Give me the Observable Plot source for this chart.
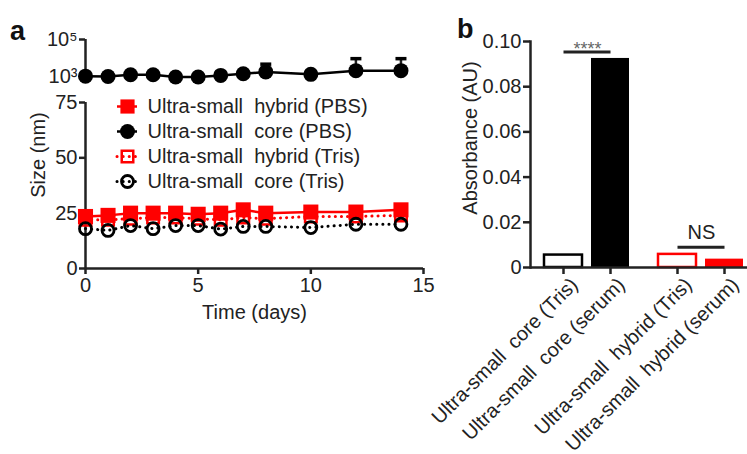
<!DOCTYPE html>
<html><head><meta charset="utf-8">
<script src="https://cdn.jsdelivr.net/npm/d3@7"></script>
<script src="https://cdn.jsdelivr.net/npm/@observablehq/plot@0.6"></script>
<style>
html,body{margin:0;padding:0;background:#fff;overflow:hidden}
#wrap{position:relative;width:747px;height:454px;overflow:hidden;font-family:"Liberation Sans",Arial,sans-serif;color:#222;background:#fff}
#wrap svg{position:absolute}
#wrap svg text{white-space:pre}
.panel{position:absolute;font-weight:bold;font-size:27px;color:#111;line-height:1}
.ylab{position:absolute;font-size:20px;transform:translate(-50%,-50%) rotate(-90deg);white-space:nowrap;line-height:1}
</style></head>
<body><div id="wrap"></div>
<script>
// ---------- Panel a data ----------
const days = [0, 1, 2, 3, 4, 5, 6, 7, 8, 10, 12, 14];
const sizeHybridPBS  = [23.5, 24, 25, 25, 25, 24.5, 25, 26.5, 25, 25.5, 25.5, 26.5];
const sizeHybridTris = [22, 22, 22.5, 23, 23, 22.5, 22, 23, 22.5, 23.5, 23.5, 24];
const sizeCoreTris   = [18, 17.2, 19.4, 18, 19.4, 19.4, 17.8, 19, 19, 18.5, 20, 20];
const sizeCorePBS    = [1000, 950, 1200, 1200, 900, 900, 1100, 1350, 1700, 1250, 2000, 2000];
const errDays        = [8, 12, 14];
const errUpperCorePBS = [4500, 9000, 9000];
const seriesNames = ["Ultra-small  hybrid (PBS)", "Ultra-small  core (PBS)", "Ultra-small  hybrid (Tris)", "Ultra-small  core (Tris)"];
const sizeTicks = [0, 25, 50, 75];
const dayTicks = [0, 5, 10, 15];
const logTicks = [1e3, 1e5];
const logTickLabels = ["10³", "10⁵"];

// ---------- Panel b data ----------
const barGroup  = ["core", "core", "hybrid", "hybrid"];
const barMedium = ["Tris", "serum", "Tris", "serum"];
const barLabel  = ["Ultra-small  core (Tris)", "Ultra-small  core (serum)", "Ultra-small  hybrid (Tris)", "Ultra-small  hybrid (serum)"];
const absorbance = [0.0055, 0.0925, 0.0058, 0.0037];
const absTicks = [0, 0.02, 0.04, 0.06, 0.08, 0.10];
const sigGroup = ["core", "hybrid"];
const sigLabel = ["****", "NS"];
const sigLevel = [0.0953, 0.009];

// ---------- tables ----------
const RED = "#ff0000";
const series = (vals) => days.map((day, i) => ({day, value: vals[i]}));
const hybridPBS = series(sizeHybridPBS);
const hybridTris = series(sizeHybridTris);
const coreTris = series(sizeCoreTris);
const corePBS = series(sizeCorePBS);
const corePBSErr = errDays.map((day, i) => ({day, value: sizeCorePBS[days.indexOf(day)], upper: errUpperCorePBS[i]}));
const legend = seriesNames.map(name => ({name}));
const bars = barLabel.map((label, i) => ({label, group: barGroup[i], medium: barMedium[i], value: absorbance[i]}));
const sig = sigGroup.map((group, i) => ({group, label: sigLabel[i], y: sigLevel[i], from: "Tris", to: "serum"}));

const font = {fontSize: "20px", fontFamily: "'Liberation Sans', Arial, sans-serif", color: "#222", background: "transparent", overflow: "visible"};
const capSymbol = {draw(ctx, size) { const w = Math.sqrt(size / Math.PI); ctx.moveTo(-w, 0); ctx.lineTo(w, 0); }};
const AX = 2.5;

const wrap = document.getElementById("wrap");
function place(el, left, top) { el.style.left = left + "px"; el.style.top = top + "px"; wrap.appendChild(el); }

// top part of panel a (log)
const topA = Plot.plot({
  width: 440, height: 58, marginLeft: 85, marginRight: 17, marginTop: 10, marginBottom: 5,
  style: font,
  x: {domain: [0, 15], axis: null},
  y: {type: "log", domain: [450, 1e5], axis: null},
  marks: [
    Plot.ruleX([0], {strokeWidth: AX}),
    Plot.axisY({ticks: logTicks, tickFormat: d => logTickLabels[logTicks.indexOf(d)], tickSize: 6, tickPadding: 2, strokeWidth: AX, label: null}),
    Plot.ruleX(corePBSErr, {x: "day", y1: "value", y2: "upper", strokeWidth: AX}),
    Plot.dot(corePBSErr, {x: "day", y: "upper", symbol: capSymbol, r: 5.5, stroke: "black", strokeWidth: 3.5}),
    Plot.line(corePBS, {x: "day", y: "value", stroke: "black", strokeWidth: AX}),
    Plot.dot(corePBS, {x: "day", y: "value", r: 7.5, fill: "black"})
  ]
});
place(topA, 0, 29);

// bottom part of panel a (linear)
const bottomA = Plot.plot({
  width: 440, height: 248, marginLeft: 85, marginRight: 17, marginTop: 22, marginBottom: 60,
  style: font,
  x: {domain: [0, 15]},
  y: {domain: [0, 75]},
  marks: [
    Plot.ruleX([0], {strokeWidth: AX}),
    Plot.ruleY([0], {strokeWidth: AX}),
    Plot.axisY({ticks: sizeTicks, tickSize: 6, tickPadding: 2, strokeWidth: AX, label: null}),
    Plot.axisX({ticks: dayTicks, tickSize: 6, tickPadding: 3, strokeWidth: AX, label: "Time (days)", labelAnchor: "center", labelArrow: "none", labelOffset: 50}),
    Plot.line(hybridPBS, {x: "day", y: "value", stroke: RED, strokeWidth: AX}),
    Plot.dot(hybridPBS, {x: "day", y: "value", symbol: "square", r: 8.5, fill: RED}),
    Plot.line(hybridTris, {x: "day", y: "value", stroke: RED, strokeWidth: 3, strokeDasharray: "0.1 6", strokeLinecap: "round"}),
    Plot.dot(hybridTris, {x: "day", y: "value", symbol: "square", r: 6.5, stroke: RED, strokeWidth: AX, fill: "none"}),
    Plot.line(coreTris, {x: "day", y: "value", stroke: "black", strokeWidth: 3, strokeDasharray: "0.1 6", strokeLinecap: "round"}),
    Plot.dot(coreTris, {x: "day", y: "value", r: 6, stroke: "black", strokeWidth: 2.8, fill: "none"})
  ]
});
place(bottomA, 0, 80);

// legend of panel a
const L = i => legend.filter(d => d.name === seriesNames[i]);
const legendPlot = Plot.plot({
  width: 300, height: 104, marginLeft: 17, marginRight: 263, marginTop: 13, marginBottom: 14,
  style: font,
  y: {type: "point", domain: seriesNames, padding: 0, axis: null},
  marks: [
    Plot.ruleY(L(0), {y: "name", stroke: RED, strokeWidth: AX}),
    Plot.dot(L(0), {y: "name", symbol: "square", r: 8, fill: RED}),
    Plot.ruleY(L(1), {y: "name", stroke: "black", strokeWidth: AX}),
    Plot.dot(L(1), {y: "name", r: 7.5, fill: "black"}),
    Plot.ruleY(L(2), {y: "name", stroke: RED, strokeWidth: 3, strokeDasharray: "0.1 6", strokeLinecap: "round"}),
    Plot.dot(L(2), {y: "name", symbol: "square", r: 6.5, stroke: RED, strokeWidth: AX, fill: "none"}),
    Plot.ruleY(L(3), {y: "name", stroke: "black", strokeWidth: 3, strokeDasharray: "0.1 6", strokeLinecap: "round"}),
    Plot.dot(L(3), {y: "name", r: 6, stroke: "black", strokeWidth: 2.8, fill: "none"}),
    Plot.text(legend, {y: "name", text: "name", frameAnchor: "right", textAnchor: "start", dx: 10, fill: "#222"})
  ]
});
place(legendPlot, 100, 92);

// panel b
const plotB = Plot.plot({
  width: 338, height: 452, marginLeft: 110, marginRight: 0, marginTop: 41, marginBottom: 185,
  style: font,
  fx: {domain: sigGroup, padding: 0, axis: null},
  x: {domain: ["Tris", "serum"], paddingInner: 0.191, paddingOuter: 0.308, axis: null},
  y: {domain: [0, 0.1]},
  color: {domain: ["core", "hybrid"], range: ["black", RED]},
  marks: [
    Plot.barY(bars.filter(d => d.medium === "Tris"), {fx: "group", x: "medium", y: "value", fill: "white", stroke: "group", strokeWidth: AX}),
    Plot.barY(bars.filter(d => d.medium === "serum"), {fx: "group", x: "medium", y: "value", fill: "group"}),
    Plot.ruleY([0], {strokeWidth: AX}),
    Plot.frame({anchor: "left", facet: "super", strokeWidth: AX}),
    Plot.axisY({ticks: absTicks, tickFormat: d => d === 0 ? "0" : d.toFixed(2), tickSize: 7, tickPadding: 2, strokeWidth: AX, label: null}),
    Plot.axisX({tickSize: 7, tickFormat: () => "", strokeWidth: AX, label: null}),
    Plot.text(bars, {fx: "group", x: "medium", text: "label", frameAnchor: "bottom", rotate: -45, textAnchor: "end", lineAnchor: "middle", dx: 11, dy: 14, fill: "#222"}),
    Plot.link(sig, {fx: "group", x1: "from", x2: "to", y1: "y", y2: "y", strokeWidth: 3}),
    Plot.text(sig.filter(d => d.label === "NS"), {fx: "group", y: "y", text: "label", lineAnchor: "bottom", dy: -8, fill: "#222"}),
    Plot.text(sig.filter(d => d.label !== "NS"), {fx: "group", y: "y", text: "label", lineAnchor: "bottom", dy: 3, fontSize: 18, fill: "#666"})
  ]
});
place(plotB, 420, 0);

// titles and y labels (HTML text)
function div(cls, text, left, top) { const d = document.createElement("div"); d.className = cls; d.textContent = text; d.style.left = left + "px"; d.style.top = top + "px"; wrap.appendChild(d); }
div("panel", "a", 10, 18);
div("panel", "b", 457, 16);
div("ylab", "Size (nm)", 38, 155);
div("ylab", "Absorbance (AU)", 470, 138);
</script>
</body></html>
